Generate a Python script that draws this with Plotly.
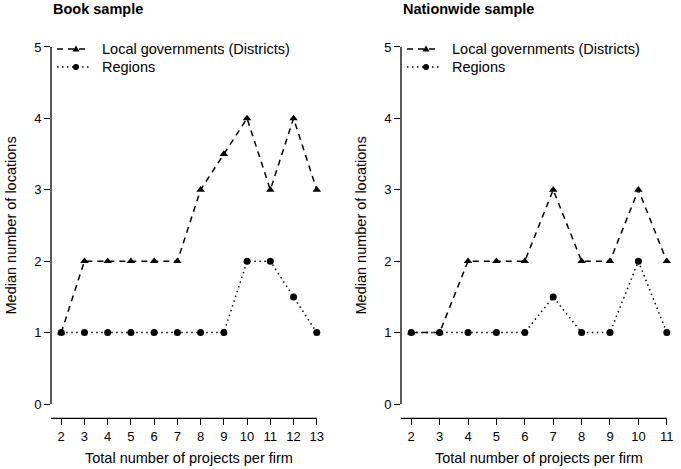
import plotly.graph_objects as go

# ---- data ----
book_x = [2, 3, 4, 5, 6, 7, 8, 9, 10, 11, 12, 13]
book_districts = [1, 2, 2, 2, 2, 2, 3, 3.5, 4, 3, 4, 3]
book_regions = [1, 1, 1, 1, 1, 1, 1, 1, 2, 2, 1.5, 1]

nat_x = [2, 3, 4, 5, 6, 7, 8, 9, 10, 11]
nat_districts = [1, 1, 2, 2, 2, 3, 2, 2, 3, 2]
nat_regions = [1, 1, 1, 1, 1, 1.5, 1, 1, 2, 1]

y_ticks = [0, 1, 2, 3, 4, 5]
titles = ["Book sample", "Nationwide sample"]
series_names = ["Local governments (Districts)", "Regions"]
x_title = "Total number of projects per firm"
y_title = "Median number of locations"

W, H = 681, 469
FONT = "Liberation Sans, Arial, Helvetica, sans-serif"
DASH = "6px,5px"
DOT = "1.5px,3.5px"

fig = go.Figure()

panels = [
    (book_x, book_districts, book_regions, "x", "y"),
    (nat_x, nat_districts, nat_regions, "x2", "y2"),
]

for xs, d, r, xa, ya in panels:
    fig.add_trace(go.Scatter(
        x=xs, y=d, mode="lines+markers", name=series_names[0],
        xaxis=xa, yaxis=ya, showlegend=False,
        line=dict(color="black", width=1.5, dash=DASH),
        marker=dict(symbol="triangle-up", size=7.5, color="black"),
    ))
    fig.add_trace(go.Scatter(
        x=xs, y=r, mode="lines+markers", name=series_names[1],
        xaxis=xa, yaxis=ya, showlegend=False,
        line=dict(color="black", width=1.5, dash=DOT),
        marker=dict(symbol="circle", size=7, color="black"),
    ))

def px_x(p):
    return p / W

def px_y(p):
    return (H - p) / H

left_px, right_px = (51, 327), (401, 677)
left_dom = [px_x(left_px[0]), px_x(left_px[1])]
right_dom = [px_x(right_px[0]), px_x(right_px[1])]
y_dom = [px_y(418.3), px_y(32.7)]

def xrange(xs):
    lo, hi = min(xs), max(xs)
    pad = 0.04 * (hi - lo)
    return [lo - pad, hi + pad]

yr = [-0.2, 5.2]

axis_common = dict(showgrid=False, zeroline=False, showline=False,
                   ticks="outside", ticklen=6, tickwidth=1, tickcolor="black",
                   tickfont=dict(size=13, color="black", family=FONT))

fig.update_layout(
    xaxis=dict(domain=left_dom, range=xrange(book_x), tickvals=book_x, anchor="y", **axis_common),
    yaxis=dict(domain=y_dom, range=yr, tickvals=y_ticks, anchor="x", **axis_common),
    xaxis2=dict(domain=right_dom, range=xrange(nat_x), tickvals=nat_x, anchor="y2", **axis_common),
    yaxis2=dict(domain=y_dom, range=yr, tickvals=y_ticks, anchor="x2", **axis_common),
)

shapes = []
annotations = []
for (xs, xa, ya), ppx in zip([(book_x, "x", "y"), (nat_x, "x2", "y2")], [left_px, right_px]):
    rng = xrange(xs)
    shapes.append(dict(type="line", xref=f"{xa} domain", yref=ya, x0=0, x1=0,
                       y0=min(y_ticks), y1=max(y_ticks), line=dict(color="black", width=1.3)))
    shapes.append(dict(type="line", xref=xa, yref=f"{ya} domain", x0=rng[0], x1=max(xs),
                       y0=0, y1=0, line=dict(color="black", width=1.3)))
    dom = [px_x(ppx[0]), px_x(ppx[1])]
    annotations.append(dict(text=f"<b>{titles[xa != 'x']}</b>", x=dom[0], y=px_y(9), xref="paper", yref="paper",
                            xanchor="left", yanchor="middle", showarrow=False,
                            font=dict(size=14.5, color="black", family=FONT)))
    annotations.append(dict(text=x_title, x=(dom[0] + dom[1]) / 2, y=px_y(458), xref="paper", yref="paper",
                            xanchor="center", yanchor="middle", showarrow=False,
                            font=dict(size=14.5, color="black", family=FONT)))
    annotations.append(dict(text=y_title, x=dom[0] - px_x(41), y=(y_dom[0] + y_dom[1]) / 2,
                            xref="paper", yref="paper", textangle=-90,
                            xanchor="center", yanchor="middle", showarrow=False,
                            font=dict(size=14.5, color="black", family=FONT)))
    # manual legend
    x0 = ppx[0]
    for k, (name, dash, sym) in enumerate([(series_names[0], DASH, "tri"), (series_names[1], DOT, "dot")]):
        yy = 49 + 18 * k
        shapes.append(dict(type="line", xref="paper", yref="paper",
                           x0=px_x(x0 + 6), x1=px_x(x0 + 38), y0=px_y(yy), y1=px_y(yy),
                           line=dict(color="black", width=1.5, dash=dash)))
        mx = px_x(x0 + 25)
        if sym == "tri":
            shapes.append(dict(type="path", xref="paper", yref="paper",
                               xsizemode="pixel", ysizemode="pixel", xanchor=mx, yanchor=px_y(yy),
                               path="M-3.5,-2.5 L3.5,-2.5 L0,3.5 Z",
                               fillcolor="black", line=dict(width=0)))
        else:
            shapes.append(dict(type="circle", xref="paper", yref="paper",
                               xsizemode="pixel", ysizemode="pixel", xanchor=mx, yanchor=px_y(yy),
                               x0=-3, x1=3, y0=-3, y1=3,
                               fillcolor="black", line=dict(width=0)))
        annotations.append(dict(text=name, x=px_x(x0 + 49), y=px_y(yy), xref="paper", yref="paper",
                                xanchor="left", yanchor="middle", showarrow=False,
                                font=dict(size=14.5, color="black", family=FONT)))

fig.update_layout(
    width=W, height=H,
    margin=dict(l=0, r=0, t=0, b=0),
    paper_bgcolor="white", plot_bgcolor="white",
    font=dict(family=FONT, color="black"),
    shapes=shapes, annotations=annotations,
    showlegend=False,
)

fig.write_html("out.html")
